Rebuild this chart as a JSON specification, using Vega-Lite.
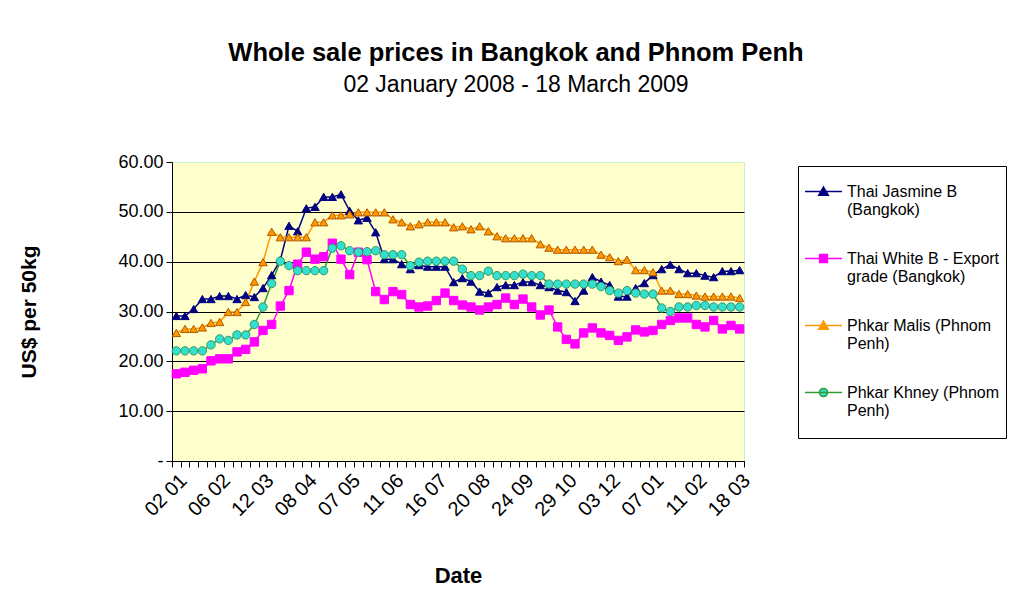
{
  "$schema": "https://vega.github.io/schema/vega-lite/v6.json",
  "width": 572,
  "height": 299,
  "autosize": "none",
  "padding": {"left": 172, "top": 162, "right": 274, "bottom": 128},
  "background": "white",
  "config": {
    "font": "Liberation Sans",
    "view": {"fill": "#FFFFCC", "stroke": "#C8F0C8", "strokeWidth": 1},
    "legend": {
      "orient": "none",
      "legendX": 626,
      "legendY": 4,
      "strokeColor": "black",
      "fillColor": "white",
      "padding": 6,
      "labelFont": "Liberation Sans",
      "labelFontSize": 16,
      "labelColor": "black",
      "labelLimit": 300,
      "labelOffset": 4,
      "labelBaseline": "middle",
      "rowPadding": 21,
      "symbolSize": 1369,
      "symbolStrokeWidth": 1.5,
      "titleOrient": "bottom",
      "titleFontSize": 4,
      "titlePadding": 9
    }
  },
  "title": {
    "text": "Whole sale prices in Bangkok and Phnom Penh",
    "subtitle": "02 January 2008 - 18 March 2009",
    "font": "Liberation Sans",
    "subtitleFont": "Liberation Sans",
    "fontSize": 25.5,
    "fontWeight": "bold",
    "subtitleFontSize": 23,
    "color": "black",
    "subtitleColor": "black",
    "anchor": "middle",
    "frame": "group",
    "dx": 58,
    "offset": 56,
    "subtitlePadding": 8
  },
  "data": {
    "values": [
      {"week": 0, "Thai Jasmine B (Bangkok)": 29.1, "Thai White B - Export grade (Bangkok)": 17.5, "Phkar Malis (Phnom Penh)": 25.7, "Phkar Khney (Phnom Penh)": 22.1},
      {"week": 1, "Thai Jasmine B (Bangkok)": 29.1, "Thai White B - Export grade (Bangkok)": 17.8, "Phkar Malis (Phnom Penh)": 26.5, "Phkar Khney (Phnom Penh)": 22.1},
      {"week": 2, "Thai Jasmine B (Bangkok)": 30.5, "Thai White B - Export grade (Bangkok)": 18.2, "Phkar Malis (Phnom Penh)": 26.5, "Phkar Khney (Phnom Penh)": 22.1},
      {"week": 3, "Thai Jasmine B (Bangkok)": 32.5, "Thai White B - Export grade (Bangkok)": 18.5, "Phkar Malis (Phnom Penh)": 26.8, "Phkar Khney (Phnom Penh)": 22.1},
      {"week": 4, "Thai Jasmine B (Bangkok)": 32.5, "Thai White B - Export grade (Bangkok)": 20.1, "Phkar Malis (Phnom Penh)": 27.7, "Phkar Khney (Phnom Penh)": 23.3},
      {"week": 5, "Thai Jasmine B (Bangkok)": 33.1, "Thai White B - Export grade (Bangkok)": 20.5, "Phkar Malis (Phnom Penh)": 27.9, "Phkar Khney (Phnom Penh)": 24.5},
      {"week": 6, "Thai Jasmine B (Bangkok)": 33.1, "Thai White B - Export grade (Bangkok)": 20.5, "Phkar Malis (Phnom Penh)": 29.9, "Phkar Khney (Phnom Penh)": 24.2},
      {"week": 7, "Thai Jasmine B (Bangkok)": 32.5, "Thai White B - Export grade (Bangkok)": 21.9, "Phkar Malis (Phnom Penh)": 29.9, "Phkar Khney (Phnom Penh)": 25.3},
      {"week": 8, "Thai Jasmine B (Bangkok)": 33.3, "Thai White B - Export grade (Bangkok)": 22.4, "Phkar Malis (Phnom Penh)": 31.9, "Phkar Khney (Phnom Penh)": 25.3},
      {"week": 9, "Thai Jasmine B (Bangkok)": 32.9, "Thai White B - Export grade (Bangkok)": 23.9, "Phkar Malis (Phnom Penh)": 36.0, "Phkar Khney (Phnom Penh)": 27.4},
      {"week": 10, "Thai Jasmine B (Bangkok)": 34.7, "Thai White B - Export grade (Bangkok)": 26.2, "Phkar Malis (Phnom Penh)": 39.9, "Phkar Khney (Phnom Penh)": 30.9},
      {"week": 11, "Thai Jasmine B (Bangkok)": 37.3, "Thai White B - Export grade (Bangkok)": 27.4, "Phkar Malis (Phnom Penh)": 46.0, "Phkar Khney (Phnom Penh)": 35.6},
      {"week": 12, "Thai Jasmine B (Bangkok)": 40.3, "Thai White B - Export grade (Bangkok)": 31.1, "Phkar Malis (Phnom Penh)": 44.9, "Phkar Khney (Phnom Penh)": 40.1},
      {"week": 13, "Thai Jasmine B (Bangkok)": 47.2, "Thai White B - Export grade (Bangkok)": 34.2, "Phkar Malis (Phnom Penh)": 44.9, "Phkar Khney (Phnom Penh)": 39.2},
      {"week": 14, "Thai Jasmine B (Bangkok)": 46.1, "Thai White B - Export grade (Bangkok)": 39.5, "Phkar Malis (Phnom Penh)": 44.9, "Phkar Khney (Phnom Penh)": 38.2},
      {"week": 15, "Thai Jasmine B (Bangkok)": 50.7, "Thai White B - Export grade (Bangkok)": 41.9, "Phkar Malis (Phnom Penh)": 44.9, "Phkar Khney (Phnom Penh)": 38.2},
      {"week": 16, "Thai Jasmine B (Bangkok)": 51.0, "Thai White B - Export grade (Bangkok)": 40.5, "Phkar Malis (Phnom Penh)": 47.9, "Phkar Khney (Phnom Penh)": 38.2},
      {"week": 17, "Thai Jasmine B (Bangkok)": 53.0, "Thai White B - Export grade (Bangkok)": 41.0, "Phkar Malis (Phnom Penh)": 47.9, "Phkar Khney (Phnom Penh)": 38.2},
      {"week": 18, "Thai Jasmine B (Bangkok)": 53.0, "Thai White B - Export grade (Bangkok)": 43.7, "Phkar Malis (Phnom Penh)": 49.3, "Phkar Khney (Phnom Penh)": 42.7},
      {"week": 19, "Thai Jasmine B (Bangkok)": 53.5, "Thai White B - Export grade (Bangkok)": 40.5, "Phkar Malis (Phnom Penh)": 49.3, "Phkar Khney (Phnom Penh)": 43.2},
      {"week": 20, "Thai Jasmine B (Bangkok)": 50.2, "Thai White B - Export grade (Bangkok)": 37.4, "Phkar Malis (Phnom Penh)": 49.5, "Phkar Khney (Phnom Penh)": 42.2},
      {"week": 21, "Thai Jasmine B (Bangkok)": 48.3, "Thai White B - Export grade (Bangkok)": 41.9, "Phkar Malis (Phnom Penh)": 49.9, "Phkar Khney (Phnom Penh)": 41.9},
      {"week": 22, "Thai Jasmine B (Bangkok)": 48.8, "Thai White B - Export grade (Bangkok)": 40.4, "Phkar Malis (Phnom Penh)": 49.9, "Phkar Khney (Phnom Penh)": 42.0},
      {"week": 23, "Thai Jasmine B (Bangkok)": 45.9, "Thai White B - Export grade (Bangkok)": 34.0, "Phkar Malis (Phnom Penh)": 49.9, "Phkar Khney (Phnom Penh)": 42.2},
      {"week": 24, "Thai Jasmine B (Bangkok)": 40.5, "Thai White B - Export grade (Bangkok)": 32.4, "Phkar Malis (Phnom Penh)": 49.9, "Phkar Khney (Phnom Penh)": 41.4},
      {"week": 25, "Thai Jasmine B (Bangkok)": 40.5, "Thai White B - Export grade (Bangkok)": 34.0, "Phkar Malis (Phnom Penh)": 48.5, "Phkar Khney (Phnom Penh)": 41.4},
      {"week": 26, "Thai Jasmine B (Bangkok)": 39.5, "Thai White B - Export grade (Bangkok)": 33.4, "Phkar Malis (Phnom Penh)": 47.9, "Phkar Khney (Phnom Penh)": 41.4},
      {"week": 27, "Thai Jasmine B (Bangkok)": 38.5, "Thai White B - Export grade (Bangkok)": 31.4, "Phkar Malis (Phnom Penh)": 47.1, "Phkar Khney (Phnom Penh)": 39.2},
      {"week": 28, "Thai Jasmine B (Bangkok)": 39.3, "Thai White B - Export grade (Bangkok)": 30.9, "Phkar Malis (Phnom Penh)": 47.5, "Phkar Khney (Phnom Penh)": 39.9},
      {"week": 29, "Thai Jasmine B (Bangkok)": 39.0, "Thai White B - Export grade (Bangkok)": 31.1, "Phkar Malis (Phnom Penh)": 47.9, "Phkar Khney (Phnom Penh)": 40.1},
      {"week": 30, "Thai Jasmine B (Bangkok)": 39.0, "Thai White B - Export grade (Bangkok)": 32.2, "Phkar Malis (Phnom Penh)": 47.9, "Phkar Khney (Phnom Penh)": 40.1},
      {"week": 31, "Thai Jasmine B (Bangkok)": 39.0, "Thai White B - Export grade (Bangkok)": 33.7, "Phkar Malis (Phnom Penh)": 47.9, "Phkar Khney (Phnom Penh)": 40.1},
      {"week": 32, "Thai Jasmine B (Bangkok)": 35.9, "Thai White B - Export grade (Bangkok)": 32.2, "Phkar Malis (Phnom Penh)": 46.9, "Phkar Khney (Phnom Penh)": 40.1},
      {"week": 33, "Thai Jasmine B (Bangkok)": 36.7, "Thai White B - Export grade (Bangkok)": 31.3, "Phkar Malis (Phnom Penh)": 47.1, "Phkar Khney (Phnom Penh)": 38.5},
      {"week": 34, "Thai Jasmine B (Bangkok)": 36.0, "Thai White B - Export grade (Bangkok)": 30.9, "Phkar Malis (Phnom Penh)": 46.5, "Phkar Khney (Phnom Penh)": 37.2},
      {"week": 35, "Thai Jasmine B (Bangkok)": 34.0, "Thai White B - Export grade (Bangkok)": 30.3, "Phkar Malis (Phnom Penh)": 47.1, "Phkar Khney (Phnom Penh)": 37.2},
      {"week": 36, "Thai Jasmine B (Bangkok)": 33.7, "Thai White B - Export grade (Bangkok)": 30.9, "Phkar Malis (Phnom Penh)": 46.1, "Phkar Khney (Phnom Penh)": 38.1},
      {"week": 37, "Thai Jasmine B (Bangkok)": 34.9, "Thai White B - Export grade (Bangkok)": 31.4, "Phkar Malis (Phnom Penh)": 45.1, "Phkar Khney (Phnom Penh)": 37.2},
      {"week": 38, "Thai Jasmine B (Bangkok)": 35.3, "Thai White B - Export grade (Bangkok)": 32.7, "Phkar Malis (Phnom Penh)": 44.7, "Phkar Khney (Phnom Penh)": 37.2},
      {"week": 39, "Thai Jasmine B (Bangkok)": 35.3, "Thai White B - Export grade (Bangkok)": 31.4, "Phkar Malis (Phnom Penh)": 44.7, "Phkar Khney (Phnom Penh)": 37.2},
      {"week": 40, "Thai Jasmine B (Bangkok)": 35.9, "Thai White B - Export grade (Bangkok)": 32.5, "Phkar Malis (Phnom Penh)": 44.7, "Phkar Khney (Phnom Penh)": 37.5},
      {"week": 41, "Thai Jasmine B (Bangkok)": 35.9, "Thai White B - Export grade (Bangkok)": 30.9, "Phkar Malis (Phnom Penh)": 44.7, "Phkar Khney (Phnom Penh)": 37.2},
      {"week": 42, "Thai Jasmine B (Bangkok)": 35.3, "Thai White B - Export grade (Bangkok)": 29.3, "Phkar Malis (Phnom Penh)": 43.5, "Phkar Khney (Phnom Penh)": 37.2},
      {"week": 43, "Thai Jasmine B (Bangkok)": 34.9, "Thai White B - Export grade (Bangkok)": 30.3, "Phkar Malis (Phnom Penh)": 42.8, "Phkar Khney (Phnom Penh)": 35.5},
      {"week": 44, "Thai Jasmine B (Bangkok)": 34.2, "Thai White B - Export grade (Bangkok)": 26.9, "Phkar Malis (Phnom Penh)": 42.4, "Phkar Khney (Phnom Penh)": 35.5},
      {"week": 45, "Thai Jasmine B (Bangkok)": 33.9, "Thai White B - Export grade (Bangkok)": 24.4, "Phkar Malis (Phnom Penh)": 42.4, "Phkar Khney (Phnom Penh)": 35.5},
      {"week": 46, "Thai Jasmine B (Bangkok)": 32.1, "Thai White B - Export grade (Bangkok)": 23.5, "Phkar Malis (Phnom Penh)": 42.4, "Phkar Khney (Phnom Penh)": 35.5},
      {"week": 47, "Thai Jasmine B (Bangkok)": 34.2, "Thai White B - Export grade (Bangkok)": 25.7, "Phkar Malis (Phnom Penh)": 42.4, "Phkar Khney (Phnom Penh)": 35.5},
      {"week": 48, "Thai Jasmine B (Bangkok)": 36.9, "Thai White B - Export grade (Bangkok)": 26.7, "Phkar Malis (Phnom Penh)": 42.4, "Phkar Khney (Phnom Penh)": 35.5},
      {"week": 49, "Thai Jasmine B (Bangkok)": 36.0, "Thai White B - Export grade (Bangkok)": 25.7, "Phkar Malis (Phnom Penh)": 41.4, "Phkar Khney (Phnom Penh)": 35.0},
      {"week": 50, "Thai Jasmine B (Bangkok)": 35.3, "Thai White B - Export grade (Bangkok)": 25.2, "Phkar Malis (Phnom Penh)": 40.9, "Phkar Khney (Phnom Penh)": 34.2},
      {"week": 51, "Thai Jasmine B (Bangkok)": 33.0, "Thai White B - Export grade (Bangkok)": 24.2, "Phkar Malis (Phnom Penh)": 40.1, "Phkar Khney (Phnom Penh)": 33.7},
      {"week": 52, "Thai Jasmine B (Bangkok)": 33.0, "Thai White B - Export grade (Bangkok)": 24.9, "Phkar Malis (Phnom Penh)": 40.4, "Phkar Khney (Phnom Penh)": 34.2},
      {"week": 53, "Thai Jasmine B (Bangkok)": 34.7, "Thai White B - Export grade (Bangkok)": 26.3, "Phkar Malis (Phnom Penh)": 38.3, "Phkar Khney (Phnom Penh)": 33.7},
      {"week": 54, "Thai Jasmine B (Bangkok)": 35.7, "Thai White B - Export grade (Bangkok)": 25.9, "Phkar Malis (Phnom Penh)": 38.3, "Phkar Khney (Phnom Penh)": 33.5},
      {"week": 55, "Thai Jasmine B (Bangkok)": 37.3, "Thai White B - Export grade (Bangkok)": 26.2, "Phkar Malis (Phnom Penh)": 37.9, "Phkar Khney (Phnom Penh)": 33.5},
      {"week": 56, "Thai Jasmine B (Bangkok)": 38.5, "Thai White B - Export grade (Bangkok)": 27.4, "Phkar Malis (Phnom Penh)": 34.2, "Phkar Khney (Phnom Penh)": 30.7},
      {"week": 57, "Thai Jasmine B (Bangkok)": 39.4, "Thai White B - Export grade (Bangkok)": 28.2, "Phkar Malis (Phnom Penh)": 34.2, "Phkar Khney (Phnom Penh)": 30.0},
      {"week": 58, "Thai Jasmine B (Bangkok)": 38.5, "Thai White B - Export grade (Bangkok)": 28.7, "Phkar Malis (Phnom Penh)": 33.5, "Phkar Khney (Phnom Penh)": 30.9},
      {"week": 59, "Thai Jasmine B (Bangkok)": 37.7, "Thai White B - Export grade (Bangkok)": 28.7, "Phkar Malis (Phnom Penh)": 33.5, "Phkar Khney (Phnom Penh)": 30.9},
      {"week": 60, "Thai Jasmine B (Bangkok)": 37.7, "Thai White B - Export grade (Bangkok)": 27.4, "Phkar Malis (Phnom Penh)": 33.2, "Phkar Khney (Phnom Penh)": 31.2},
      {"week": 61, "Thai Jasmine B (Bangkok)": 37.2, "Thai White B - Export grade (Bangkok)": 26.9, "Phkar Malis (Phnom Penh)": 33.0, "Phkar Khney (Phnom Penh)": 31.2},
      {"week": 62, "Thai Jasmine B (Bangkok)": 36.9, "Thai White B - Export grade (Bangkok)": 28.2, "Phkar Malis (Phnom Penh)": 33.0, "Phkar Khney (Phnom Penh)": 30.9},
      {"week": 63, "Thai Jasmine B (Bangkok)": 38.1, "Thai White B - Export grade (Bangkok)": 26.5, "Phkar Malis (Phnom Penh)": 33.0, "Phkar Khney (Phnom Penh)": 30.9},
      {"week": 64, "Thai Jasmine B (Bangkok)": 38.1, "Thai White B - Export grade (Bangkok)": 27.2, "Phkar Malis (Phnom Penh)": 33.0, "Phkar Khney (Phnom Penh)": 30.9},
      {"week": 65, "Thai Jasmine B (Bangkok)": 38.3, "Thai White B - Export grade (Bangkok)": 26.5, "Phkar Malis (Phnom Penh)": 32.7, "Phkar Khney (Phnom Penh)": 30.9}
    ]
  },
  "transform": [
    {"fold": ["Thai Jasmine B (Bangkok)", "Thai White B - Export grade (Bangkok)", "Phkar Malis (Phnom Penh)", "Phkar Khney (Phnom Penh)"], "as": ["series", "price"]}
  ],
  "encoding": {
    "x": {
      "field": "week",
      "type": "ordinal",
      "bandPosition": 0.5,
      "scale": {"type": "band", "paddingInner": 0, "paddingOuter": 0},
      "title": "Date",
      "axis": {
        "titleFont": "Liberation Sans",
        "titleFontSize": 22,
        "titleFontWeight": "bold",
        "titleColor": "black",
        "titlePadding": 46,
        "labelFont": "Liberation Sans",
        "labelFontSize": 20,
        "labelColor": "black",
        "labelAngle": -45,
        "labelAlign": "right",
        "labelBaseline": "top",
        "labelPadding": 3,
        "labelOverlap": false,
        "labelBound": false,
        "labelExpr": "datum.value % 5 == 0 ? ['02 01','06 02','12 03','08 04','07 05','11 06','16 07','20 08','24 09','29 10','03 12','07 01','11 02','18 03'][datum.value / 5] : ''",
        "tickBand": "extent",
        "tickSize": 6,
        "tickColor": "black",
        "domainColor": "black",
        "grid": false
      }
    },
    "y": {
      "field": "price",
      "type": "quantitative",
      "scale": {"domain": [0, 60]},
      "title": "US$ per 50kg",
      "axis": {
        "values": [0, 10, 20, 30, 40, 50, 60],
        "labelExpr": "datum.value == 0 ? '-' : format(datum.value, '.2f')",
        "titleFont": "Liberation Sans",
        "titleFontSize": 21,
        "titleFontWeight": "bold",
        "titleColor": "black",
        "titlePadding": 78,
        "labelFont": "Liberation Sans",
        "labelFontSize": 18,
        "labelColor": "black",
        "labelPadding": 3,
        "tickSize": 6,
        "tickColor": "black",
        "domainColor": "black",
        "grid": true,
        "gridColor": {"condition": {"test": "datum.value === 60", "value": "#C8F0C8"}, "value": "black"},
        "gridWidth": 1
      }
    }
  },
  "layer": [
    {
      "mark": {"type": "line", "strokeWidth": 1.5},
      "encoding": {
        "color": {
          "field": "series",
          "scale": {"domain": ["Thai Jasmine B (Bangkok)", "Thai White B - Export grade (Bangkok)", "Phkar Malis (Phnom Penh)", "Phkar Khney (Phnom Penh)"], "range": ["#000080", "#FF00FF", "#FF9900", "#339933"]},
          "legend": null
        }
      }
    },
    {
      "mark": {"type": "point", "filled": true, "size": 70, "strokeWidth": 1, "opacity": 1},
      "encoding": {
        "shape": {
          "field": "series",
          "scale": {"domain": ["Thai Jasmine B (Bangkok)", "Thai White B - Export grade (Bangkok)", "Phkar Malis (Phnom Penh)", "Phkar Khney (Phnom Penh)"], "range": ["triangle-up", "square", "triangle-up", "circle"]},
          "legend": null
        },
        "fill": {
          "field": "series",
          "scale": {"domain": ["Thai Jasmine B (Bangkok)", "Thai White B - Export grade (Bangkok)", "Phkar Malis (Phnom Penh)", "Phkar Khney (Phnom Penh)"], "range": ["#000080", "#FF00FF", "#FF9900", "#33E0D0"]},
          "legend": null
        },
        "stroke": {
          "field": "series",
          "scale": {"domain": ["Thai Jasmine B (Bangkok)", "Thai White B - Export grade (Bangkok)", "Phkar Malis (Phnom Penh)", "Phkar Khney (Phnom Penh)"], "range": ["#000080", "#FF00FF", "#B35900", "#339966"]},
          "legend": null
        }
      }
    },
    {
      "mark": {"type": "point", "filled": true, "size": 0, "strokeWidth": 1.5, "opacity": 1},
      "encoding": {
        "shape": {
          "field": "series",
          "title": " ",
          "scale": {"domain": ["Thai Jasmine B (Bangkok)", "Thai White B - Export grade (Bangkok)", "Phkar Malis (Phnom Penh)", "Phkar Khney (Phnom Penh)"], "range": ["M-1,0H1M0,-0.24L0.26,0.2L-0.26,0.2Z", "M-1,0H1M-0.21,-0.21H0.21V0.21H-0.21Z", "M-1,0H1M0,-0.24L0.26,0.2L-0.26,0.2Z", "M-1,0H1M-0.22,0A0.22,0.22,0,1,0,0.22,0A0.22,0.22,0,1,0,-0.22,0Z"]},
          "legend": {
            "labelExpr": "datum.label == 'Thai Jasmine B (Bangkok)' ? ['Thai Jasmine B', '(Bangkok)'] : datum.label == 'Thai White B - Export grade (Bangkok)' ? ['Thai White B - Export', 'grade (Bangkok)'] : datum.label == 'Phkar Malis (Phnom Penh)' ? ['Phkar Malis (Phnom', 'Penh)'] : ['Phkar Khney (Phnom', 'Penh)']"
          }
        },
        "fill": {
          "field": "series",
          "title": " ",
          "scale": {"domain": ["Thai Jasmine B (Bangkok)", "Thai White B - Export grade (Bangkok)", "Phkar Malis (Phnom Penh)", "Phkar Khney (Phnom Penh)"], "range": ["#000080", "#FF00FF", "#FF9900", "#33E0D0"]}
        },
        "stroke": {
          "field": "series",
          "title": " ",
          "scale": {"domain": ["Thai Jasmine B (Bangkok)", "Thai White B - Export grade (Bangkok)", "Phkar Malis (Phnom Penh)", "Phkar Khney (Phnom Penh)"], "range": ["#000080", "#FF00FF", "#FF9900", "#339933"]}
        }
      }
    }
  ],
  "resolve": {"scale": {"shape": "independent", "fill": "independent", "stroke": "independent"}}
}
